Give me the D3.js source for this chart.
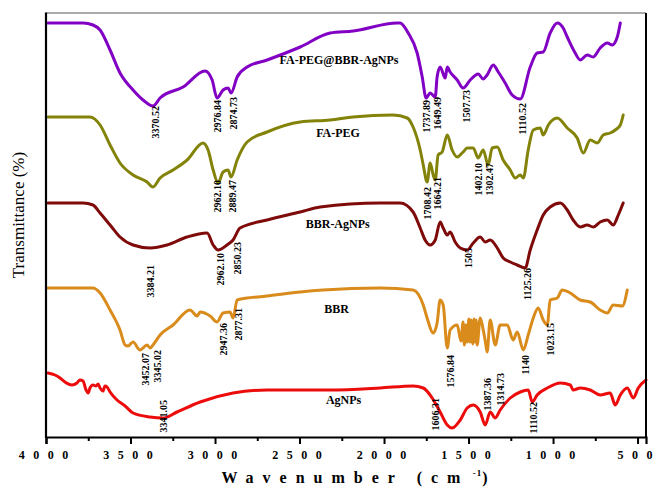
<!DOCTYPE html>
<html><head><meta charset="utf-8">
<script src="https://cdn.jsdelivr.net/npm/d3@7"></script>
<style>
html,body{margin:0;padding:0;background:#fff;}
svg text{font-family:"Liberation Serif","Times New Roman",serif;}
</style></head>
<body><svg id="chart" width="654" height="488"></svg>
<script>
// wavenumber (cm-1) and offset transmittance (arbitrary units)
const purpleWn = [3988,3781,3722,3680,3621,3562,3485,3426,3367,3325,3189,3059,3017,2988,2952,2923,2905,2869,2810,2692,2496,2319,2183,1922,1905,1857,1804,1774,1751,1727,1697,1686,1668,1638,1626,1609,1567,1532,1490,1443,1413,1390,1354,1324,1283,1242,1194,1135,1094,1058,1017,975,940,916,869,839,798,762,721,679,650,620,602];
const purpleT  = [414,414,412,407,387,364,347,337,331,339,350,366,357,339,347,349,344,360,370,377,390,404,406,414,414,404,384,360,339,344,340,360,370,359,370,365,357,349,357,363,358,362,372,365,354,342,338,370,384,385,404,414,409,400,384,377,382,380,389,394,392,400,414];

const oliveWn = [3988,3740,3680,3621,3562,3485,3402,3367,3325,3248,3165,3071,3041,3011,2982,2952,2923,2905,2869,2810,2692,2496,2319,2183,1946,1863,1828,1786,1768,1745,1727,1709,1697,1680,1656,1626,1597,1567,1532,1508,1472,1443,1413,1384,1360,1330,1295,1253,1224,1194,1176,1147,1117,1076,1058,1028,975,916,857,821,780,738,703,662,632,602,585];
const oliveT  = [320,320,312,292,274,262,255,250,259,267,277,294,287,267,254,265,267,260,277,295,305,315,317,320,322,319,310,287,272,255,274,262,257,282,285,302,287,280,285,289,289,279,287,272,289,290,277,267,259,262,259,287,307,309,302,312,319,309,299,284,297,294,302,304,307,312,322];

const maroonWn = [3988,3781,3722,3680,3621,3562,3485,3384,3284,3165,3047,3011,2982,2929,2893,2852,2692,2496,2378,2023,1905,1828,1786,1757,1727,1697,1668,1650,1626,1609,1579,1549,1508,1472,1431,1401,1372,1330,1295,1253,1212,1165,1135,1094,1058,1017,957,916,881,839,798,762,721,679,644,614,585];
const maroonT  = [234,234,232,224,212,200,192,189,192,200,204,192,187,192,197,209,217,225,230,234,234,225,209,197,192,197,215,209,202,205,195,189,187,194,200,195,197,189,179,175,172,169,187,207,222,230,234,227,217,210,212,210,215,217,212,222,234];

const orangeWn = [3988,3722,3680,3621,3562,3532,3515,3485,3444,3402,3384,3367,3325,3248,3148,3106,3088,3029,2988,2952,2911,2893,2869,2692,2496,2360,2023,1828,1768,1745,1709,1686,1668,1650,1626,1609,1567,1545,1532,1525,1515,1508,1498,1492,1485,1475,1468,1460,1455,1449,1431,1413,1400,1390,1372,1342,1313,1271,1236,1212,1176,1147,1117,1088,1058,1034,1017,975,946,898,839,780,721,679,644,590,561];
const orangeT  = [149,149,144,127,107,92,91,95,87,92,89,92,102,112,127,121,125,121,115,124,125,119,137,141,145,147,149,147,132,119,104,114,137,132,89,107,112,96,115,92,112,95,118,95,117,93,118,95,117,92,119,107,95,85,117,92,112,112,97,105,87,102,119,129,117,112,137,139,147,144,137,135,127,124,132,131,147];

const redWn = [3988,3947,3917,3888,3846,3817,3799,3781,3763,3751,3740,3722,3704,3692,3680,3663,3651,3639,3621,3580,3532,3485,3384,3307,3225,3088,2893,2692,2319,2023,1828,1768,1715,1668,1626,1597,1549,1508,1472,1431,1401,1372,1342,1313,1253,1194,1147,1123,1094,1034,957,898,881,839,780,721,662,632,602,561,525,496,450];
const redT  = [64,62,59,55,52,54,57,56,47,44,49,52,51,53,49,46,51,50,45,37,31,24,20,19,25,35,44,47,47,49,51,49,39,25,12,9,17,29,32,25,12,25,19,27,39,45,47,35,42,49,54,52,47,49,47,42,44,32,42,49,39,49,57];

const seriesNames  = ["FA-PEG@BBR-AgNPs","FA-PEG","BBR-AgNPs","BBR","AgNPs"];
const seriesColors = ["#8200C4","#838309","#7E0A0A","#D98B1C","#EC0C0C"];
const nameWn = [2266,2272,2274,2280,2239];
const nameT  = [373,300,209,124,33];

// peak annotations: text, position (wavenumber), top of label (transmittance units)
const peakText = ["3370.52","2976.84","2874.73","1737.89","1649.49","1507.73","1110.52",
                  "2962.10","2889.47","1708.42","1664.21","1402.10","1302.47",
                  "3384.21","2962.10","2850.23","1505","1125.26",
                  "3452.07","3345.02","2947.36","2877.31","1576.84","1140","1023.15",
                  "3341.05","1606.31","1387.36","1314.73","1110.52"];
const peakWn = [3355,2988,2893,1751,1686,1514,1182,
                2988,2899,1745,1686,1443,1378,
                3384,2970,2869,1502,1153,
                3414,3343,2952,2863,1609,1165,1017,
                3307,1697,1390,1313,1117];
const peakT  = [331,337,340,337,340,347,334,
                257,257,250,260,274,274,
                172,184,195,189,169,
                84,87,114,129,82,82,114,
                37,39,59,64,35];

const xTicks = [4000,3500,3000,2500,2000,1500,1000,500];
const xMinorTicks = [3750,3250,2750,2250,1750,1250,750];

const svg = d3.select("#chart");
const mLeft = 46, mRight = 646, mTop = 13, mBottom = 437;
const x = d3.scaleLinear().domain([4000,450]).range([mLeft,mRight]);
const y = d3.scaleLinear().domain([0,424]).range([mBottom,mTop]);

const series = [
  {wn:purpleWn,t:purpleT},{wn:oliveWn,t:oliveT},{wn:maroonWn,t:maroonT},
  {wn:orangeWn,t:orangeT},{wn:redWn,t:redT}
];
const line = d3.line().x(d=>x(d[0])).y(d=>y(d[1])).curve(d3.curveMonotoneX);
series.forEach((s,i)=>{
  const pts = s.wn.map((w,j)=>[w,s.t[j]]);
  svg.append("path").attr("d",line(pts)).attr("fill","none")
    .attr("stroke",seriesColors[i]).attr("stroke-width",3)
    .attr("stroke-linejoin","round").attr("stroke-linecap","round");
});

// frame
svg.append("line").attr("x1",mLeft).attr("x2",mRight).attr("y1",mTop).attr("y2",mTop)
  .attr("stroke","#555").attr("stroke-width",1.2);
svg.append("line").attr("x1",mRight).attr("x2",mRight).attr("y1",mTop).attr("y2",mBottom)
  .attr("stroke","#000").attr("stroke-width",2);
svg.append("line").attr("x1",mLeft).attr("x2",mLeft).attr("y1",mTop-0.5).attr("y2",mBottom+1)
  .attr("stroke","#000").attr("stroke-width",2.2);

// x axis (digits spaced as in the original)
const gx = svg.append("g").attr("transform",`translate(0,${mBottom})`)
  .call(d3.axisBottom(x).tickValues(xTicks).tickSize(7).tickPadding(6)
    .tickFormat(d => String(d).split("").join(" ")));
gx.select(".domain").attr("stroke","#000").attr("stroke-width",2.2);
gx.selectAll(".tick line").attr("stroke","#000").attr("stroke-width",2);
gx.selectAll(".tick text").attr("font-family","'Liberation Serif',serif").attr("font-size",12)
  .attr("font-weight","bold").attr("fill","#000").style("word-spacing","5.5px")
  .style("white-space","pre").attr("dx","-3px");
const gm = svg.append("g").attr("transform",`translate(0,${mBottom})`)
  .call(d3.axisBottom(x).tickValues(xMinorTicks).tickSize(4).tickFormat(""));
gm.select(".domain").remove();
gm.selectAll(".tick line").attr("stroke","#000").attr("stroke-width",2);

// axis titles
const xt = svg.append("text").attr("x",359).attr("y",483).attr("text-anchor","middle")
  .attr("font-size",16).attr("font-weight","bold").style("letter-spacing","9px");
xt.append("tspan").text("Wavenumber (cm");
xt.append("tspan").attr("font-size",9).attr("dy",-7).style("letter-spacing","1px").text(" -1");
xt.append("tspan").attr("dy",7).text(")");

svg.append("text").attr("transform","translate(24,215) rotate(-90)").attr("text-anchor","middle")
  .attr("font-size",17).text("Transmittance (%)");

// series names
seriesNames.forEach((n,i)=>{
  svg.append("text").attr("x",x(nameWn[i])).attr("y",y(nameT[i])).attr("text-anchor","middle")
    .attr("font-size",12).attr("font-weight","bold").text(n);
});

// peak labels
peakText.forEach((t,i)=>{
  svg.append("text")
    .attr("transform",`translate(${x(peakWn[i])+3.5},${y(peakT[i])}) rotate(-90)`)
    .attr("text-anchor","end").attr("font-size",10).attr("font-weight","bold").text(t);
});
</script></body></html>
